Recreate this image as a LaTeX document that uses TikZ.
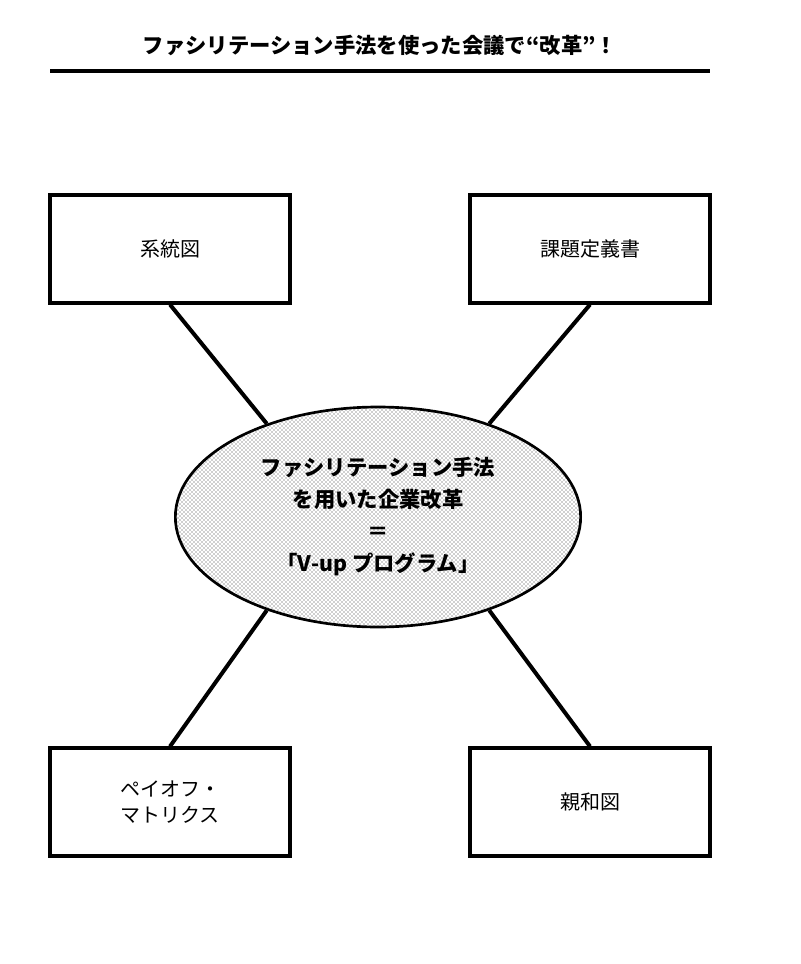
\documentclass[tikz,border=0pt]{standalone}
\usepackage{fontspec}
\setmainfont{Noto Sans CJK JP}
\usetikzlibrary{patterns,shapes.geometric}
\begin{document}
\begin{tikzpicture}[x=0.75pt,y=-0.75pt]
\tikzstyle{boxStyle}=[draw, line width=2.4pt, fill=white, minimum width=180pt, minimum height=81pt, align=center, font=\fontsize{15}{20}\selectfont]
\tikzstyle{hubStyle}=[ellipse, draw, line width=2pt, minimum width=304pt, minimum height=165pt, align=center, pattern=crosshatch dots, pattern color=black!80]
\tikzstyle{linkStyle}=[line width=3pt]
\useasboundingbox (0,0) rectangle (800,964);
\node[font=\fontsize{16}{20}\selectfont\bfseries] (title) at (380,45) {ファシリテーション手法を使った会議で“改革”！};
\coordinate (ruleL) at (50,71);
\coordinate (ruleR) at (710,71);
\draw[line width=3pt] (ruleL) -- (ruleR);
\node[boxStyle] (keitou) at (170,249) {系統図};
\node[boxStyle] (kadai) at (590,249) {課題定義書};
\node[boxStyle] (payoff) at (170,802) {ペイオフ・\\マトリクス};
\node[boxStyle] (shinwa) at (590,802) {親和図};
\node[hubStyle] (hub) at (378,517) {};
\draw[linkStyle] (keitou.south) -- (hub.140);
\draw[linkStyle] (kadai.south) -- (hub.40);
\draw[linkStyle] (payoff.north) -- (hub.220);
\draw[linkStyle] (shinwa.north) -- (hub.320);
\node[font=\fontsize{16}{24}\selectfont\bfseries, align=center] (hubText) at (hub) {ファシリテーション手法\\を用いた企業改革\\＝\\「V-up プログラム」};
\end{tikzpicture}
\end{document}
